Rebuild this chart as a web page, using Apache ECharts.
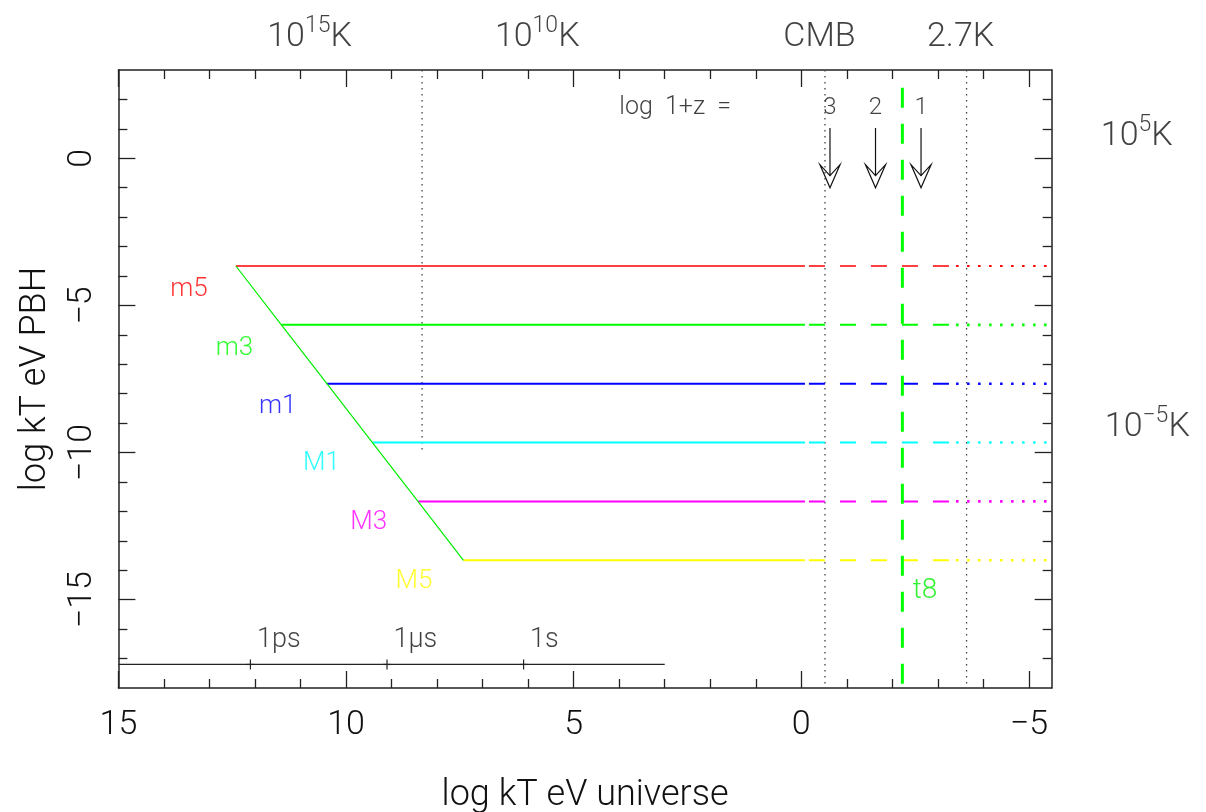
<!DOCTYPE html>
<html><head><meta charset="utf-8">
<script src="https://cdn.jsdelivr.net/npm/echarts@6/dist/echarts.min.js"></script>
<style>html,body{margin:0;padding:0;background:#fff}#c{width:1206px;height:812px}</style>
</head><body><div id="c"></div>
<script>
// ---------------- data ----------------
const FONT = 'Roboto';
const FW = 300;
const TXT = '#111';
const pbhNames   = ['m5','m3','m1','M1','M3','M5'];
const pbhColors  = ['#ff0000','#00ff00','#0000ff','#00ffff','#ff00ff','#ffff00'];
const pbhLogT    = [-3.66,-5.66,-7.66,-9.66,-11.66,-13.66];
const pbhStartX  = [12.42,11.42,10.42,9.42,8.42,7.42];
const pbhWidths  = [1.3,2,2,2,2,2];
const solidEndX  = -0.08;
const dashEndX   = -3.4;
const dotEndX    = -5.5;
const pbhLabelX  = [13.45,12.45,11.5,10.54,9.5,8.51];
const pbhLabelY  = [-4.47,-6.47,-8.44,-10.38,-12.38,-14.39];

const dottedVX      = [8.33,-0.52,-3.63];
const dottedVTop    = [3,3,3];
const dottedVBottom = [-10,-18,-18];
const t8X = -2.22, t8Top = 2.4, t8Bottom = -18;
const t8Label = {x:-2.72, y:-14.72, text:'t8'};

const zArrowX  = [-0.63,-1.63,-2.63];
const zLabels  = ['3','2','1'];
const zArrowTop = 1.03, zArrowTip = -1.0, zLabelY = 1.71;
const zTitle = {x:2.77, y:1.71, text:'log  1+z  ='};

const timeAxisY = -17.2, timeAxisFrom = 15, timeAxisTo = 3;
const timeTickX = [12.1,9.1,6.1];
const timeLabels = ['1ps','1\u03BCs','1s'];

const topLabelText = ['{b|10}{s|15}{b|K}','{b|10}{s|10}{b|K}','{b|CMB}','{b|2.7K}'];
const topLabelX = [10.8,5.8,-0.4,-3.5];
const topLabelY = 4.2;
const rightLabelText = ['{b|10}{s|5}{b|K}','{b|10}{s|\u22125}{b|K}'];
const rightLabelX = [-7.37,-7.6];
const rightLabelY = [0.85,-9.06];

const xMajor = [15,10,5,0,-5];
const xMinor = [14,13,12,11,9,8,7,6,4,3,2,1,-1,-2,-3,-4];
const yMajor = [0,-5,-10,-15];
const yMinor = [2,1,-1,-2,-3,-4,-6,-7,-8,-9,-11,-12,-13,-14,-16,-17];

// ---------------- helpers ----------------
const AX = '#222';
const minusFix = v => String(v).replace('-', '\u2212');
function xAx(pos, ticks, len, showLabel, showLine, name) {
  return {
    type:'value', min:-5.5, max:15, inverse:true, position:pos,
    name: name || '', nameLocation:'middle', nameGap:90,
    nameTextStyle:{fontFamily:FONT, fontWeight:FW, fontSize:36, color:TXT},
    axisLine:{show:showLine, onZero:false, lineStyle:{color:AX, width:1.5}},
    axisTick:{show:true, inside:true, length:len, customValues:ticks, lineStyle:{color:AX, width:1.3}},
    axisLabel:{show:showLabel, customValues:ticks, formatter:minusFix, margin:20,
      fontFamily:FONT, fontWeight:FW, fontSize:34, color:TXT},
    splitLine:{show:false}
  };
}
function yAx(pos, ticks, len, showLabel, showLine, name) {
  return {
    type:'value', min:-18, max:3, position:pos,
    name: name || '', nameLocation:'middle', nameGap:64, nameRotate:90,
    nameTextStyle:{fontFamily:FONT, fontWeight:FW, fontSize:36, color:TXT},
    axisLine:{show:showLine, onZero:false, lineStyle:{color:AX, width:1.5}},
    axisTick:{show:true, inside:true, length:len, customValues:ticks, lineStyle:{color:AX, width:1.3}},
    axisLabel:{show:showLabel, customValues:ticks, formatter:minusFix, rotate:90, margin:19,
      fontFamily:FONT, fontWeight:FW, fontSize:34, color:TXT},
    splitLine:{show:false}
  };
}
function seg(data, color, width, type, offset) {
  return {type:'line', data:data, symbol:'none', silent:true, animation:false, z:3,
    lineStyle:{color:color, width:width, type:type||'solid', cap:'butt', dashOffset:offset||0}};
}
function textSeries(points, style, rich) {
  return {type:'scatter', clip:false, silent:true, animation:false, symbolSize:1,
    itemStyle:{color:'rgba(0,0,0,0)'}, z:5,
    data: points,
    label:{show:true, position:'inside', formatter:p => p.data[2],
      fontFamily:FONT, fontWeight:FW, ...style, rich: rich || {}}};
}

// ---------------- series ----------------
const series = [];
// dotted verticals
dottedVX.forEach((x,i) => series.push(seg([[x,dottedVTop[i]],[x,dottedVBottom[i]]], '#444', 1.3, [1.4,4.6])));
// PBH horizontal lines
pbhLogT.forEach((y,i) => {
  series.push(seg([[pbhStartX[i],y],[solidEndX,y]], pbhColors[i], pbhWidths[i], 'solid'));
  series.push(seg([[solidEndX,y],[dashEndX,y]], pbhColors[i], pbhWidths[i], [16,15], 27));
  series.push(seg([[dashEndX,y],[dotEndX,y]], pbhColors[i], pbhWidths[i]+0.6, [2.5,8.5]));
});
// diagonal formation line
series.push(seg(pbhStartX.map((x,i)=>[x,pbhLogT[i]]), '#00ee00', 1.2, 'solid'));
// t8 dashed
series.push(seg([[t8X,t8Top],[t8X,t8Bottom]], '#00ff00', 3, [20,16]));
// time axis line
series.push(seg([[timeAxisFrom,timeAxisY],[timeAxisTo,timeAxisY]], '#222', 1.2, 'solid'));
// time axis '+' ticks
series.push({type:'custom', silent:true, animation:false, z:4,
  data: timeTickX.map(x=>[x,timeAxisY]),
  renderItem:(params, api) => {
    const p = api.coord([api.value(0), api.value(1)]);
    return {type:'group', children:[
      {type:'line', shape:{x1:p[0],y1:p[1]-5,x2:p[0],y2:p[1]+5}, style:{stroke:'#222',lineWidth:1.2}},
      {type:'line', shape:{x1:p[0]-4,y1:p[1],x2:p[0]+4,y2:p[1]}, style:{stroke:'#222',lineWidth:1.2}}
    ]};
  }});
// redshift arrows
series.push({type:'custom', silent:true, animation:false, z:4,
  data: zArrowX.map(x=>[x,zArrowTop,zArrowTip]),
  renderItem:(params, api) => {
    const x = api.value(0);
    const top = api.coord([x, api.value(1)]);
    const tip = api.coord([x, api.value(2)]);
    const hl = 23, hw = 10, notch = 12;
    const bx = tip[0], by = tip[1];
    return {type:'group', children:[
      {type:'line', shape:{x1:top[0],y1:top[1],x2:bx,y2:by-notch}, style:{stroke:'#111',lineWidth:1.2}},
      {type:'polygon', shape:{points:[[bx,by],[bx-hw,by-hl],[bx,by-notch],[bx+hw,by-hl]]},
        style:{fill:'none',stroke:'#111',lineWidth:1.2}}
    ]};
  }});
// PBH labels
pbhNames.forEach((n,i) => series.push(textSeries([[pbhLabelX[i],pbhLabelY[i],n]], {fontSize:26, color:pbhColors[i]})));
// t8 label
series.push(textSeries([[t8Label.x,t8Label.y,t8Label.text]], {fontSize:28, color:'#00ee00'}));
// z labels
series.push(textSeries(zArrowX.map((x,i)=>[x,zLabelY,zLabels[i]]), {fontSize:24, color:TXT}));
series.push(textSeries([[zTitle.x,zTitle.y,zTitle.text]], {fontSize:25, color:TXT}));
// time labels
series.push(textSeries(timeTickX.map((x,i)=>[x,timeAxisY,timeLabels[i]]),
  {fontSize:27, color:TXT, position:'insideBottomLeft', offset:[2,-6]}));
// top labels and right labels (temperature in K)
const richK = {
  b:{fontFamily:FONT, fontWeight:FW, fontSize:34, color:TXT, verticalAlign:'bottom', lineHeight:40},
  s:{fontFamily:FONT, fontWeight:FW, fontSize:23, color:TXT, verticalAlign:'top', lineHeight:40}
};
series.push(textSeries(topLabelX.map((x,i)=>[x,topLabelY,topLabelText[i]]), {fontSize:34, color:TXT}, richK));
series.push(textSeries(rightLabelY.map((y,i)=>[rightLabelX[i],y,rightLabelText[i]]), {fontSize:34, color:TXT}, richK));

const option = {
  backgroundColor:'#fff',
  animation:false,
  grid:{left:118.4, right:154.3, top:70, bottom:124, containLabel:false, outerBoundsMode:'none'},
  xAxis:[
    xAx('bottom', xMajor, 17, true, true, 'log kT eV universe'),
    xAx('bottom', xMinor, 9, false, false),
    xAx('top', xMajor, 17, false, true),
    xAx('top', xMinor, 9, false, false)
  ],
  yAxis:[
    yAx('left', yMajor, 17, true, true, 'log kT eV PBH'),
    yAx('left', yMinor, 9, false, false),
    yAx('right', yMajor, 17, false, true),
    yAx('right', yMinor, 9, false, false)
  ],
  series: series
};
const chart = echarts.init(document.getElementById('c'), null, {renderer:'canvas'});
chart.setOption(option);
</script>
</body></html>
